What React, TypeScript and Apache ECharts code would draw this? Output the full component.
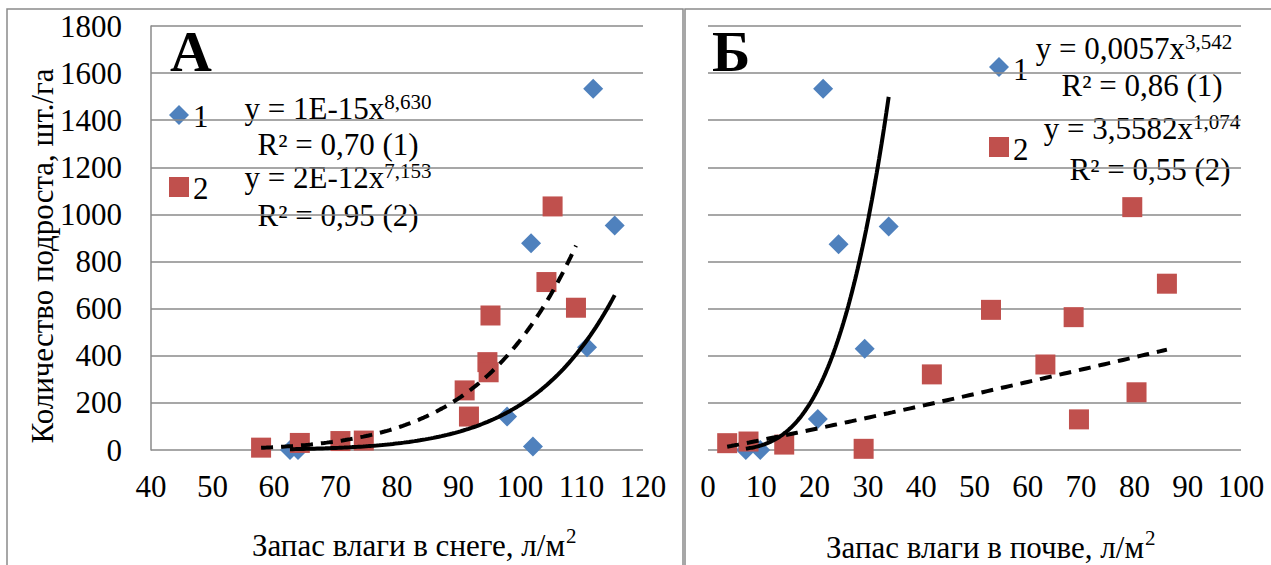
import React, { useEffect, useRef } from "react";
import * as echarts from "echarts";

// Panel А — moisture in snow
const snowX1 = [62.6, 63.9, 97.9, 101.8, 102.1, 110.9, 111.9, 115.4];
const snowY1 = [0, 0, 142, 878, 15, 436, 1534, 953];
const snowX2 = [57.9, 64.2, 70.8, 74.6, 91.0, 91.7, 94.7, 94.9, 95.2, 104.3, 105.3, 109.1];
const snowY2 = [10, 30, 38, 40, 253, 142, 373, 330, 571, 713, 1034, 604];

// Panel Б — moisture in soil
const soilX1 = [7.1, 9.8, 20.6, 21.6, 24.5, 29.4, 33.9];
const soilY1 = [0, 0, 132, 1534, 873, 430, 949];
const soilX2 = [3.6, 7.6, 14.3, 29.2, 42.0, 53.1, 63.3, 68.6, 69.6, 79.6, 80.4, 86.1];
const soilY2 = [29, 36, 23, 5, 321, 595, 363, 564, 130, 1031, 245, 706];

// Power trend lines y = a * x^b (coefficients as drawn)
const trendSnow1 = { a: 1.05e-15, b: 8.63 };
const trendSnow2 = { a: 2.3e-12, b: 7.153 };
const trendSoil1 = { a: 0.0057, b: 3.542 };
const trendSoil2 = { a: 3.5582, b: 1.074 };

const FONT = "Liberation Serif";
const BLUE = "#4F81BD";
const RED = "#C0504D";
const GRID = "#8a8a8a";

function pairs(xs: number[], ys: number[]) {
  return xs.map((x, i) => [x, ys[i]]);
}

function trend(t: { a: number; b: number }, xs: number[]) {
  const lo = Math.min(...xs);
  const hi = Math.max(...xs);
  const n = 120;
  const out: number[][] = [];
  for (let i = 0; i <= n; i++) {
    const x = lo + ((hi - lo) * i) / n;
    out.push([x, t.a * Math.pow(x, t.b)]);
  }
  return out;
}

export default function App() {
  const ref = useRef<HTMLDivElement>(null);

  useEffect(() => {
    document.body.style.margin = "0";
    const chart = echarts.init(ref.current!, null, { renderer: "svg" });

    const tickLabel = {
      color: "#000",
      fontFamily: FONT,
      fontSize: 31,
      formatter: (v: number) => String(v),
    };
    const eqRich = {
      m: { fontFamily: FONT, fontSize: 31, color: "#000", lineHeight: 34 },
      s: { fontFamily: FONT, fontSize: 21, color: "#000", lineHeight: 34, verticalAlign: "top", padding: [0, 0, 10, 0] },
    };

    const eq = (x: number, y: number, text: string) => ({
      type: "text",
      x,
      y,
      style: { text, rich: eqRich, align: "center", verticalAlign: "middle", font: `31px ${FONT}` },
    });

    const plain = (x: number, y: number, text: string, size: number, align = "left") => ({
      type: "text",
      x,
      y,
      style: { text, font: `${size}px ${FONT}`, fill: "#000", align, verticalAlign: "middle" },
    });

    const scatter = (axis: number, symbol: string, color: string, data: number[][]) => ({
      type: "scatter",
      xAxisIndex: axis,
      yAxisIndex: axis,
      symbol,
      symbolSize: [20, 20],
      itemStyle: { color, opacity: 1 },
      emphasis: { disabled: true },
      data,
      z: 2,
    });

    const trendLine = (axis: number, dashed: boolean, data: number[][]) => ({
      type: "line",
      xAxisIndex: axis,
      yAxisIndex: axis,
      showSymbol: false,
      symbol: "none",
      lineStyle: { color: "#000", width: 4, type: dashed ? [12, 8] : "solid" },
      data,
      z: 3,
    });

    const option: any = {
      animation: false,
      backgroundColor: "#fff",
      textStyle: { fontFamily: FONT },
      grid: [
        { left: 151, top: 26, width: 492, height: 424 },
        { left: 708, top: 26, width: 533, height: 424 },
      ],
      xAxis: [
        {
          gridIndex: 0,
          type: "value",
          min: 40,
          max: 120,
          interval: 10,
          axisLine: { show: false },
          axisTick: { show: false },
          splitLine: { show: false },
          axisLabel: { ...tickLabel, margin: 21 },
        },
        {
          gridIndex: 1,
          type: "value",
          min: 0,
          max: 100,
          interval: 10,
          axisLine: { show: false },
          axisTick: { show: false },
          splitLine: { show: false },
          axisLabel: { ...tickLabel, margin: 21 },
        },
      ],
      yAxis: [
        {
          gridIndex: 0,
          type: "value",
          min: 0,
          max: 1800,
          interval: 200,
          axisLine: { show: true, lineStyle: { color: GRID, width: 1.5 } },
          axisTick: { show: false },
          splitLine: { show: true, lineStyle: { color: GRID, width: 1.5 } },
          axisLabel: { ...tickLabel, margin: 29 },
        },
        {
          gridIndex: 1,
          type: "value",
          min: 0,
          max: 1800,
          interval: 200,
          axisLine: { show: false },
          axisTick: { show: false },
          splitLine: { show: true, lineStyle: { color: GRID, width: 1.5 } },
          axisLabel: { show: false },
        },
      ],
      series: [
        scatter(0, "diamond", BLUE, pairs(snowX1, snowY1)),
        scatter(0, "rect", RED, pairs(snowX2, snowY2)),
        trendLine(0, false, trend(trendSnow1, snowX1)),
        trendLine(0, true, trend(trendSnow2, snowX2)),
        scatter(1, "diamond", BLUE, pairs(soilX1, soilY1)),
        scatter(1, "rect", RED, pairs(soilX2, soilY2)),
        trendLine(1, false, trend(trendSoil1, soilX1)),
        trendLine(1, true, trend(trendSoil2, soilX2)),
      ],
      graphic: [
        // panel borders
        { type: "rect", shape: { x: 7, y: 9, width: 676, height: 600 }, style: { fill: "none", stroke: GRID, lineWidth: 1.5 }, z: -1 },
        { type: "rect", shape: { x: 685, y: 9, width: 620, height: 600 }, style: { fill: "none", stroke: GRID, lineWidth: 1.5 }, z: -1 },
        // panel letters
        { type: "text", x: 170, y: 51, style: { text: "А", font: `bold 58px ${FONT}`, fill: "#000", verticalAlign: "middle" } },
        { type: "text", x: 712, y: 51, style: { text: "Б", font: `bold 58px ${FONT}`, fill: "#000", verticalAlign: "middle" } },
        // y-axis title
        {
          type: "text",
          x: 42,
          y: 256,
          rotation: Math.PI / 2,
          style: { text: "Количество подроста, шт./га", font: `31px ${FONT}`, fill: "#000", align: "center", verticalAlign: "middle" },
        },
        // x-axis titles (main text + superscript)
        plain(565, 545, "Запас влаги в снеге, л/м", 31, "right"),
        plain(566, 536, "2", 21),
        plain(1144, 547, "Запас влаги в почве, л/м", 31, "right"),
        plain(1145, 538, "2", 21),
        // legend А
        { type: "polygon", shape: { points: [[179, 105], [189, 115], [179, 125], [169, 115]] }, style: { fill: BLUE } },
        plain(193, 116, "1", 31),
        { type: "rect", shape: { x: 169, y: 177, width: 20, height: 20 }, style: { fill: RED } },
        plain(193, 188, "2", 31),
        // legend Б
        { type: "polygon", shape: { points: [[999, 57], [1009, 67], [999, 77], [989, 67]] }, style: { fill: BLUE } },
        plain(1013, 69, "1", 31),
        { type: "rect", shape: { x: 989, y: 137, width: 20, height: 20 }, style: { fill: RED } },
        plain(1013, 149, "2", 31),
        // equations А
        eq(338, 108, "{m|y = 1E-15x}{s|8,630}"),
        eq(338, 144, "{m|R² = 0,70 (1)}"),
        eq(338, 177, "{m|y = 2E-12x}{s|7,153}"),
        eq(338, 215, "{m|R² = 0,95 (2)}"),
        // equations Б
        eq(1134, 48, "{m|y = 0,0057x}{s|3,542}"),
        eq(1142, 85, "{m|R² = 0,86 (1)}"),
        eq(1142, 128, "{m|y = 3,5582x}{s|1,074}"),
        eq(1150, 169, "{m|R² = 0,55 (2)}"),
      ],
    };

    chart.setOption(option);
    return () => chart.dispose();
  }, []);

  return (
    <div
      ref={ref}
      style={{ position: "absolute", left: 0, top: 0, width: 1271, height: 565, background: "#fff" }}
    />
  );
}
